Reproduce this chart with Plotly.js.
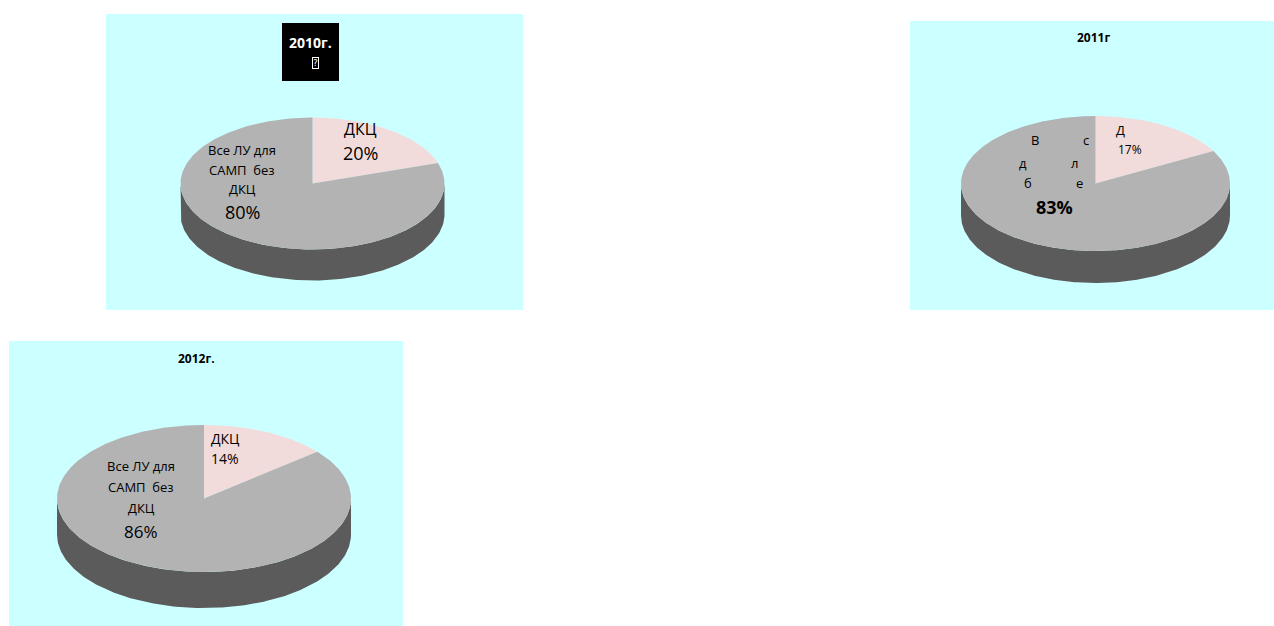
<!DOCTYPE html>
<html>
<head>
<meta charset="utf-8">
<script src="https://cdn.plot.ly/plotly-3.0.1.min.js"></script>
<style>
html,body{margin:0;padding:0;background:#ffffff;}
#chart{width:1274px;height:626px;}
</style>
</head>
<body>
<div id="chart"></div>
<script>
// ---- data ----
const years = ['2010г.', '2011г', '2012г.'];
const sliceNames = ['ДКЦ', 'Все ЛУ для САМП без ДКЦ'];
const dkcShare = [20, 17, 14];
const restShare = [80, 83, 86];

// ---- styles / geometry (pixel space) ----
const colTop = ['#F2DCDB', '#B3B3B3'];
const colSide = '#5B5B5B';
const panelBg = '#CCFFFF';
const FONT = 'Open Sans, Noto Sans, sans-serif';
const panels = [
  {bx0:106, bx1:523, by0:14, by1:310, cx:312.5, cy:183.5, rx:132, ry:66, d:31},
  {bx0:910, bx1:1274, by0:21, by1:310, cx:1095.5, cy:183.5, rx:134.5, ry:67.5, d:32},
  {bx0:9, bx1:403, by0:341, by1:626, cx:204, cy:498.5, rx:147, ry:73.5, d:36}
];

function pt(p, a, dy) { // a: clock angle in degrees from 12 o'clock, clockwise
  const r = a * Math.PI / 180;
  return [p.cx + p.rx * Math.sin(r), p.cy - p.ry * Math.cos(r) + (dy || 0)];
}

const traces = [];
const shapes = [];
const annotations = [];

panels.forEach((p, i) => {
  shapes.push({type:'rect', xref:'x', yref:'y', x0:p.bx0, x1:p.bx1, y0:p.by0, y1:p.by1,
    fillcolor:panelBg, line:{width:0}, layer:'below'});
  // side wall (front half of the cylinder)
  const xs = [], ys = [];
  for (let a = 90; a <= 270; a += 1) { const q = pt(p, a, 0); xs.push(q[0]); ys.push(q[1]); }
  for (let a = 270; a >= 90; a -= 1) { const q = pt(p, a, p.d); xs.push(q[0]); ys.push(q[1]); }
  traces.push({type:'scatter', mode:'lines', x:xs, y:ys, fill:'toself', fillcolor:colSide,
    line:{width:0, color:colSide}, hoverinfo:'skip', showlegend:false});
  // top slices
  const vals = [dkcShare[i], restShare[i]];
  const total = vals[0] + vals[1];
  let start = 0;
  vals.forEach((v, k) => {
    const end = start + v / total * 360;
    const sx = [p.cx], sy = [p.cy];
    const n = Math.max(2, Math.ceil(end - start));
    for (let j = 0; j <= n; j++) {
      const q = pt(p, start + (end - start) * j / n, 0);
      sx.push(q[0]); sy.push(q[1]);
    }
    sx.push(p.cx); sy.push(p.cy);
    traces.push({type:'scatter', mode:'lines', x:sx, y:sy, fill:'toself', fillcolor:colTop[k],
      line:{width:0, color:colTop[k]}, name:sliceNames[k], hoverinfo:'name', showlegend:false});
    start = end;
  });
});

function ann(x, y, text, size, opts) {
  annotations.push(Object.assign({xref:'x', yref:'y', x:x, y:y, text:text, showarrow:false,
    xanchor:'center', yanchor:'middle', font:{family:FONT, size:size, color:'#000000'}}, opts || {}));
}

// ---- panel 1 (2010) ----
shapes.push({type:'rect', xref:'x', yref:'y', x0:282, x1:339, y0:23, y1:81,
  fillcolor:'#000000', line:{width:0}});
ann(310.5, 42, '<b>' + years[0] + '</b>', 14, {font:{family:FONT, size:14, color:'#ffffff'}});
ann(315, 63, '?', 9, {font:{family:'DejaVu Sans', size:9, color:'#ffffff'}, bordercolor:'#ffffff', borderwidth:1, borderpad:0});
ann(360, 129, sliceNames[0], 16);
ann(360, 153, dkcShare[0] + '%', 18);
ann(242, 150, 'Все ЛУ для', 13);
ann(242, 170, 'САМП  без', 13);
ann(242, 189, 'ДКЦ', 13);
ann(242, 212, restShare[0] + '%', 18);

// ---- panel 2 (2011) ----
ann(1093, 37, '<b>' + years[1] + '</b>', 12);
ann(1120, 130, 'Д', 13);
ann(1130, 149, dkcShare[1] + '%', 12);
ann(1035, 140, 'В', 13);
ann(1086, 140, 'с', 13);
ann(1023, 163, 'д', 13);
ann(1074, 163, 'л', 13);
ann(1028, 183, 'б', 13);
ann(1079, 183, 'е', 13);
ann(1054, 207, '<b>' + restShare[1] + '%</b>', 18);

// ---- panel 3 (2012) ----
ann(196, 358, '<b>' + years[2] + '</b>', 12);
ann(225, 438, sliceNames[0], 14);
ann(225, 458, dkcShare[2] + '%', 14);
ann(141, 466, 'Все ЛУ для', 13);
ann(141, 487, 'САМП  без', 13);
ann(141, 508, 'ДКЦ', 13);
ann(141, 531, restShare[2] + '%', 17);

const layout = {
  width:1274, height:626,
  margin:{l:0, r:0, t:0, b:0},
  paper_bgcolor:'#ffffff', plot_bgcolor:'#ffffff',
  xaxis:{range:[0,1274], visible:false, fixedrange:true},
  yaxis:{range:[626,0], visible:false, fixedrange:true},
  shapes:shapes, annotations:annotations, showlegend:false
};
Plotly.newPlot('chart', traces, layout, {displayModeBar:false, staticPlot:true});
</script>
</body>
</html>
